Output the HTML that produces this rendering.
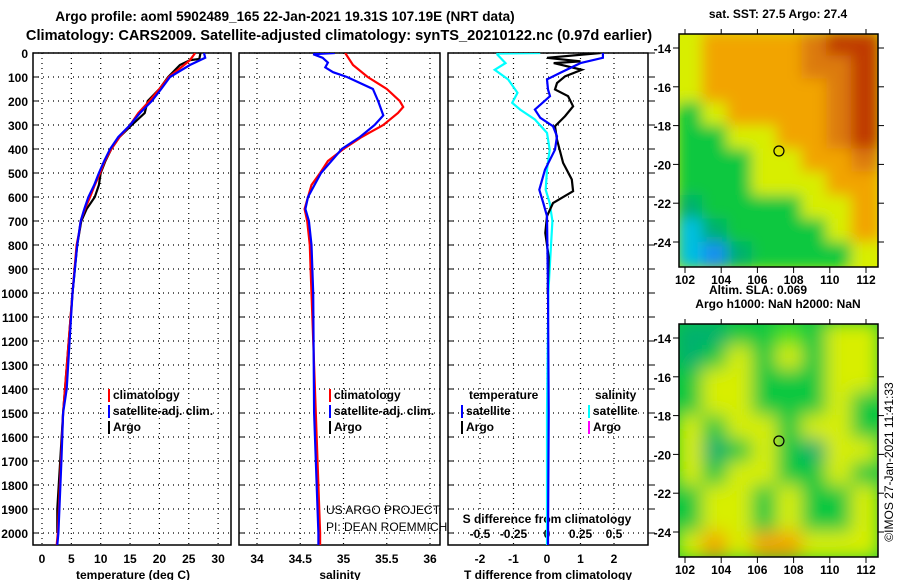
<!DOCTYPE html>
<html><head><meta charset="utf-8">
<style>
body{margin:0;background:#fff;}
svg{display:block;font-family:"Liberation Sans",sans-serif;}
.t{font-weight:bold;font-size:13.6px;fill:#000;}
.s{font-weight:bold;font-size:12px;fill:#000;}
.n{font-weight:normal;font-size:12px;fill:#000;}
</style></head>
<body>
<svg id="c" width="900" height="580" viewBox="0 0 900 580">
<defs>
<filter id="bl1"><feGaussianBlur stdDeviation="7"/></filter>
<filter id="bl2"><feGaussianBlur stdDeviation="9"/></filter>
<clipPath id="cm1"><rect x="679" y="34" width="199" height="233"/></clipPath>
<clipPath id="cm2"><rect x="679" y="324" width="199" height="233"/></clipPath>
<clipPath id="cp1"><rect x="33" y="53" width="198" height="492"/></clipPath>
<clipPath id="cp2"><rect x="239" y="53" width="201" height="492"/></clipPath>
<clipPath id="cp3"><rect x="448" y="53" width="200" height="492"/></clipPath>
</defs>
<text class="t" x="285" y="21" text-anchor="middle">Argo profile: aoml 5902489_165 22-Jan-2021 19.31S 107.19E (NRT data)</text>
<text class="t" x="339" y="40" text-anchor="middle" style="font-size:14.6px">Climatology: CARS2009. Satellite-adjusted climatology: synTS_20210122.nc (0.97d earlier)</text>
<g id="g"></g>
</svg>
<script>
// ---- data ----
const tempDepthBlue=[0,20,50,100,150,200,250,300,350,400,450,500,550,600,650,700,800,900,1000,1400,1500,1700,2000,2050];
const tempBlue=[27.6,27.8,25.2,21.8,20.3,18.7,16.7,15.0,13.0,11.6,10.6,9.7,8.9,7.9,7.2,6.6,6.0,5.6,5.2,4.2,3.6,3.3,2.8,2.6];
const tempDepthRed=[0,30,50,100,150,200,250,300,350,400,450,500,550,600,650,700,750,800,1000,1500,2000,2050];
const tempRed=[26.1,25.2,24.2,21.6,20.0,18.3,16.4,15.0,13.2,11.8,10.7,9.9,9.0,8.2,7.3,6.6,6.3,5.9,5.2,3.6,2.7,2.5];
const tempDepthArgo=[0,25,30,50,100,150,200,250,300,350,400,450,500,550,600,650,700,800,1000,1500,1900,2000];
const tempArgo=[27.0,26.8,25.2,23.5,21.5,20.0,18.0,17.5,15.3,13.2,11.8,10.8,10.0,9.7,9.0,7.6,6.7,6.0,5.2,3.6,2.6,2.6];
const salDepthRed=[0,50,100,150,200,225,250,300,330,350,400,450,500,550,600,650,700,800,900,1000,1500,2000,2050];
const salRed=[35.02,35.11,35.28,35.5,35.65,35.69,35.63,35.46,35.31,35.21,35.0,34.82,34.73,34.63,34.59,34.55,34.58,34.61,34.62,34.63,34.68,34.73,34.73];
const salDepthBlue=[0,5,20,40,60,80,100,150,200,260,300,350,400,500,600,650,700,800,1000,1500,2000,2050];
const salBlue=[34.9,34.65,34.76,34.82,34.79,34.88,35.04,35.34,35.4,35.46,35.36,35.19,34.98,34.74,34.59,34.56,34.6,34.63,34.65,34.66,34.71,34.71];
const dtDepthSat=[0,20,42,83,110,152,180,236,270,305,347,403,486,570,625,680,1000,1500,2050];
const dtSat=[1.67,1.67,1.0,0.39,0.0,0.03,0.09,-0.36,-0.2,0.18,0.3,0.24,-0.06,-0.23,-0.11,0.0,0.03,0.05,0.03];
const dtDepthArgo=[0,20,35,42,70,97,125,152,180,222,263,305,361,458,527,576,625,680,750,850,1000];
const dtArgo=[1.6,0.0,1.0,0.2,1.04,0.54,0.3,0.24,0.63,0.78,0.54,0.24,0.3,0.48,0.74,0.78,0.18,0.0,-0.05,0.05,0.02];
const dsDepthSat=[0,2,7,42,70,110,166,208,236,277,333,403,486,570,625,700,1000,1500,2050];
const dsSat=[-0.05,-0.37,-0.37,-0.31,-0.39,-0.29,-0.22,-0.26,-0.2,-0.09,0.0,0.02,0.0,-0.01,0.02,0.04,0.01,0.0,0.0];
const depthTicks=[0,100,200,300,400,500,600,700,800,900,1000,1100,1200,1300,1400,1500,1600,1700,1800,1900,2000];
const tempTicks=[0,5,10,15,20,25,30];
const salTicks=[34,34.5,35,35.5,36];
const dtTicks=[-2,-1,0,1,2];
const dsTicks=[-0.5,-0.25,0,0.25,0.5];
const latTicks=[-14,-16,-18,-20,-22,-24];
const lonTicks=[102,104,106,108,110,112];
// map colour grids (rows north->south, cols west->east)
const sstGrid=["YOOOODRR","YOOOODDR","YOOOOODR","GYOOOODR","GGYYOODR","GGGYYOOD","GGGYYYOO","TGGGGYYO","CTGGGGYO","CBTGGGGY"];
const slaGrid=["TTGGgGYY","TGYGYGYY","GYYGGGYY","GYYGGGYG","YGYYGYYG","YTGYGTYY","YGYYGGYG","GYYGYGGY","GYYGYGGY","YOYOOYYY"];
const pal={Y:"#d8ee00",O:"#f2a400",D:"#dc7a08",R:"#c03a00",G:"#10c840",T:"#00b070",C:"#00c0e0",B:"#1890f0",g:"#50e020"};
const argoLon=107.19, argoLat=-19.31;

// ---- scales ----
const yD=d=>53+d*0.24;
const xT=v=>42+v*5.87;
const xS=v=>257+(v-34)*86.5;
const xDT=v=>547+v*33.5;
const xDS=v=>547+v*134;
const mLon=v=>685+(v-102)*18.1;
const mLat=(v,top)=>top+14+(-14-v)*19.4;

const NS="http://www.w3.org/2000/svg";
const G=document.getElementById('g');
function el(t,a,p){const e=document.createElementNS(NS,t);for(const k in a)e.setAttribute(k,a[k]);(p||G).appendChild(e);return e;}
function txt(x,y,s,cls,anchor,p){const e=el('text',{x:x,y:y,class:cls||'s','text-anchor':anchor||'start'},p);e.textContent=s;return e;}

function panel(x0,x1,name,vx,vticks){
  const g=el('g',{});
  
  
  depthTicks.forEach(d=>{el('line',{x1:x0,x2:x1,y1:yD(d),y2:yD(d),stroke:'#000','stroke-dasharray':'1,4','stroke-width':1.2},g);
    el('line',{x1:x0,x2:x0+6,y1:yD(d),y2:yD(d),stroke:'#000'},g);});
  vticks.forEach(v=>{el('line',{x1:vx(v),x2:vx(v),y1:53,y2:545,stroke:'#000','stroke-dasharray':'1,4','stroke-width':1.2},g);});
  el('rect',{x:x0,y:53,width:x1-x0,height:492,fill:'none',stroke:'#000','stroke-width':1.5},g);
  return g;
}
function line(ds,vs,xf,col,clip,name,w){
  const pts=ds.map((d,i)=>xf(vs[i]).toFixed(1)+','+yD(d).toFixed(1)).join(' ');
  const p=el('polyline',{points:pts,fill:'none',stroke:col,'stroke-width':w||2.2,'clip-path':'url(#'+clip+')'});
  
  
}
panel(33,231,'temperature-panel',xT,tempTicks);
panel(239,440,'salinity-panel',xS,salTicks);
panel(448,648,'difference-panel',xDT,dtTicks);
depthTicks.forEach(d=>{const t=txt(28,yD(d)+5,String(d),'s','end');
  
  
  el('line',{x1:648,x2:655,y1:yD(d),y2:yD(d),stroke:'#000'});});
tempTicks.forEach(v=>{const t=txt(xT(v),563,String(v),'s','middle');
  
  });
salTicks.forEach(v=>{const t=txt(xS(v),563,String(v),'s','middle');
  
  });
dtTicks.forEach(v=>{const t=txt(xDT(v),563,String(v),'s','middle');
  
  });
dsTicks.forEach(v=>{const t=txt(xDS(v),538,String(v),'s','middle');
  
  });
[['temperature (deg C)',133,'x-axis-title-temperature'],['salinity',340,'x-axis-title-salinity'],['T difference from climatology',548,'x-axis-title-tdiff']].forEach(a=>{
  const t=txt(a[1],579,a[0],'s','middle');});
const sd=txt(547,523,'S difference from climatology','s','middle');



line(tempDepthArgo,tempArgo,xT,'#000','cp1','temp-argo-line');
line(tempDepthRed,tempRed,xT,'#f00','cp1','temp-climatology-line');
line(tempDepthBlue,tempBlue,xT,'#00f','cp1','temp-satellite-line');
line(salDepthRed,salRed,xS,'#f00','cp2','salinity-climatology-line');
line(salDepthBlue,salBlue,xS,'#00f','cp2','salinity-satellite-line');
line(dsDepthSat,dsSat,xDS,'#0ff','cp3','sdiff-satellite-line');
line(dtDepthArgo,dtArgo,xDT,'#000','cp3','tdiff-argo-line');
line(dtDepthSat,dtSat,xDT,'#00f','cp3','tdiff-satellite-line');

function leg(x,y,col,label,name){const g=el('g',{});
  el('rect',{x:x,y:y-10,width:2,height:13,fill:col},g);txt(x+5,y,label,'s','start',g);}
leg(108,399,'#f00','climatology','legend-temp-climatology');
leg(108,415,'#00f','satellite-adj. clim.','legend-temp-satellite');
leg(108,431,'#000','Argo','legend-temp-argo');
leg(329,399,'#f00','climatology','legend-sal-climatology');
leg(329,415,'#00f','satellite-adj. clim.','legend-sal-satellite');
leg(329,431,'#000','Argo','legend-sal-argo');
const h1=txt(469,399,'temperature');
const h2=txt(595,399,'salinity');
leg(461,415,'#00f','satellite','legend-tdiff-satellite');
leg(461,431,'#000','Argo','legend-tdiff-argo');
leg(588,415,'#0ff','satellite','legend-sdiff-satellite');
leg(588,431,'#f0f','Argo','legend-sdiff-argo');
const c1=txt(326,514,'US ARGO PROJECT','n','start');
const c2=txt(326,531,'PI: DEAN ROEMMICH','n','start');

function map(top,grid,clip,name,blur,title){
  const g=el('g',{});
  const cg=el('g',{'clip-path':'url(#'+clip+')'},g);
  el('rect',{x:679,y:top,width:199,height:233,fill:pal[grid[5][4]]},cg);
  const inner=el('g',{filter:'url(#'+blur+')'},cg);
  const rows=grid.length,cols=grid[0].length,cw=199/cols,rh=233/rows;
  grid.forEach((r,i)=>{for(let j=0;j<cols;j++)el('rect',{x:679+j*cw-2,y:top+i*rh-2,width:cw+4,height:rh+4,fill:pal[r[j]]},inner);});
  el('rect',{x:679,y:top,width:199,height:233,fill:'none',stroke:'#000','stroke-width':1.5},g);
  latTicks.forEach(v=>{const y=mLat(v,top);el('line',{x1:673,x2:679,y1:y,y2:y,stroke:'#000'},g);el('line',{x1:878,x2:884,y1:y,y2:y,stroke:'#000'},g);txt(671,y+5,String(v),'s','end',g);});
  lonTicks.forEach(v=>{const x=mLon(v);el('line',{x1:x,x2:x,y1:top,y2:top-5,stroke:'#000'},g);el('line',{x1:x,x2:x,y1:top+233,y2:top+239,stroke:'#000'},g);txt(x,top+250,String(v),'s','middle',g);});
  el('circle',{cx:mLon(argoLon),cy:mLat(argoLat,top),r:5,fill:'none',stroke:'#000','stroke-width':1.2},g);
  txt(778,top-16,title,'s','middle',g);
}
map(34,sstGrid,'cm1','sst-map','bl1','sat. SST: 27.5 Argo: 27.4');
map(324,slaGrid,'cm2','sla-map','bl2','Argo h1000: NaN h2000: NaN');
const al=txt(758,294,'Altim. SLA: 0.069','s','middle');
const im=txt(0,0,'©IMOS 27-Jan-2021 11:41:33','n','middle');
im.setAttribute('transform','translate(893,462) rotate(-90)');


</script>
</body></html>
